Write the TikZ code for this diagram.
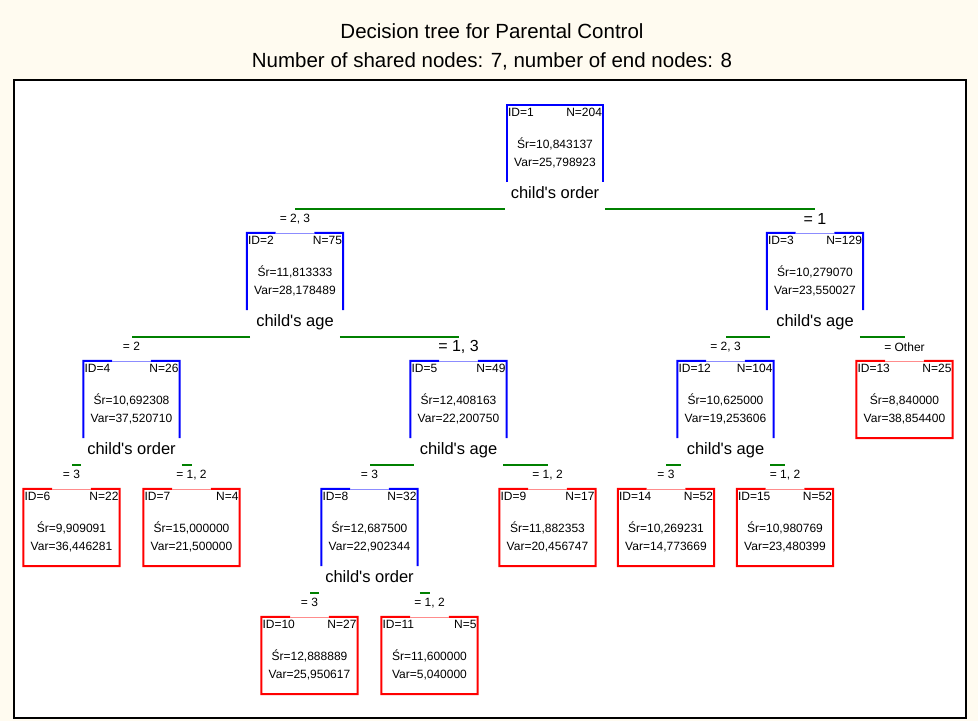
\documentclass[tikz,border=0pt]{standalone}
\usepackage{fontspec}
\setmainfont{Liberation Sans}
\usepackage{tikz}
\usetikzlibrary{positioning, calc}
\definecolor{splitblue}{RGB}{0,0,255}
\definecolor{leafred}{RGB}{255,0,0}
\definecolor{branchgreen}{RGB}{0,128,0}
\definecolor{panelbg}{RGB}{255,251,240}

\newcommand{\stats}[4]{\parbox[c][75pt][t]{94pt}{\rule{0pt}{10pt}ID=#1\hfill N=#2\par
    \vspace{14pt}\centering Śr=#3\par Var=#4}}

\begin{document}
\begin{tikzpicture}[
    x=1pt, y=-1pt,
    every node/.style={font=\fontsize{12}{18}\selectfont},
    treebox/.style={minimum width=96pt, minimum height=77pt, inner sep=1pt},
    edge from parent/.style={draw=none},
    level distance=128pt,
    splitline/.style={draw=splitblue, line width=2pt},
    leafline/.style={draw=leafred, line width=2pt},
    splitlabel/.style={font=\fontsize{16.5}{18}\selectfont, text height=12pt, text depth=4pt, inner xsep=6pt, inner ysep=6pt},
    branch/.style={draw=branchgreen, line width=2pt},
    cond/.style={fill=white, inner sep=2pt},
    bigcond/.style={cond, font=\fontsize{16}{18}\selectfont}
]
\useasboundingbox (0,0) rectangle (978,721);
\fill[panelbg] (0,0) rectangle (978,721);
\draw[line width=2pt, fill=white] (14,80) rectangle (966,718);

\node[font=\fontsize{20.5}{24}\selectfont] (title) at (492,31) {Decision tree for Parental Control};
\node[font=\fontsize{20.5}{24}\selectfont] (subtitle) at (492,61) {Number of shared nodes: 7, number of end nodes: 8};

\node[treebox] (n1) at (555,143.5) {\stats{1}{204}{10,843137}{25,798923}}
    child[sibling distance=520pt] {node[treebox] (n2) {\stats{2}{75}{11,813333}{28,178489}}
        child[sibling distance=327pt] {node[treebox] (n4) {\stats{4}{26}{10,692308}{37,520710}}
            child[sibling distance=120pt] {node[treebox] (n6) {\stats{6}{22}{9,909091}{36,446281}}}
            child[sibling distance=120pt] {node[treebox] (n7) {\stats{7}{4}{15,000000}{21,500000}}}}
        child[sibling distance=327pt] {node[treebox] (n5) {\stats{5}{49}{12,408163}{22,200750}}
            child[sibling distance=178pt] {node[treebox] (n8) {\stats{8}{32}{12,687500}{22,902344}}
                child[sibling distance=120pt] {node[treebox] (n10) {\stats{10}{27}{12,888889}{25,950617}}}
                child[sibling distance=120pt] {node[treebox] (n11) {\stats{11}{5}{11,600000}{5,040000}}}}
            child[sibling distance=178pt] {node[treebox] (n9) {\stats{9}{17}{11,882353}{20,456747}}}}}
    child[sibling distance=520pt] {node[treebox] (n3) {\stats{3}{129}{10,279070}{23,550027}}
        child[sibling distance=179pt] {node[treebox] (n12) {\stats{12}{104}{10,625000}{19,253606}}
            child[sibling distance=119pt] {node[treebox] (n14) {\stats{14}{52}{10,269231}{14,773669}}}
            child[sibling distance=119pt] {node[treebox] (n15) {\stats{15}{52}{10,980769}{23,480399}}}}
        child[sibling distance=179pt] {node[treebox] (n13) {\stats{13}{25}{8,840000}{38,854400}}}};

% open boxes of the split nodes
\draw[splitline] (n1.south west) -- (n1.north west) -- (n1.north east) -- (n1.south east);
\foreach \b in {n2,n3,n4,n5,n8,n12} {
    \draw[splitline] (\b.south west) -- (\b.north west) -- ($(\b.north west)!.3!(\b.north east)$);
    \draw[splitline] (\b.south east) -- (\b.north east) -- ($(\b.north east)!.3!(\b.north west)$);
    \draw[splitblue!45] ($(\b.north west)!.3!(\b.north east)$) -- ($(\b.north east)!.3!(\b.north west)$);
}
% closed boxes of the end nodes
\foreach \b in {n6,n7,n9,n10,n11,n13,n14,n15} {
    \draw[leafline] ($(\b.north west)!.3!(\b.north east)$) -- (\b.north west) -- (\b.south west)
        -- (\b.south east) -- (\b.north east) -- ($(\b.north east)!.3!(\b.north west)$);
    \draw[leafred!45] ($(\b.north west)!.3!(\b.north east)$) -- ($(\b.north east)!.3!(\b.north west)$);
}

\foreach \b/\t in {1/order, 2/age, 3/age, 4/order, 5/age, 8/order, 12/age}
    \node[splitlabel] (s\b) at ([yshift=-51pt]n\b.center) {child\textquotesingle s \t};

\foreach \p/\l/\r in {1/2/3, 2/4/5, 3/12/13, 4/6/7, 5/8/9, 8/10/11, 12/14/15} {
    \draw[branch] (s\p.south west) -- (s\p.south west -| n\l.north);
    \draw[branch] (s\p.south east) -- (s\p.south east -| n\r.north);
}

\foreach \c/\t in {2/{= 2, 3}, 4/{= 2}, 6/{= 3}, 7/{= 1, 2}, 8/{= 3}, 9/{= 1, 2}, 10/{= 3}, 11/{= 1, 2}, 12/{= 2, 3}, 13/{= Other}, 14/{= 3}, 15/{= 1, 2}}
    \node[cond] (c\c) at ([yshift=14pt]n\c.north) {\t};
\node[bigcond] (c3) at ([yshift=14pt]n3.north) {= 1};
\node[bigcond] (c5) at ([yshift=14pt]n5.north) {= 1, 3};

\end{tikzpicture}
\end{document}
